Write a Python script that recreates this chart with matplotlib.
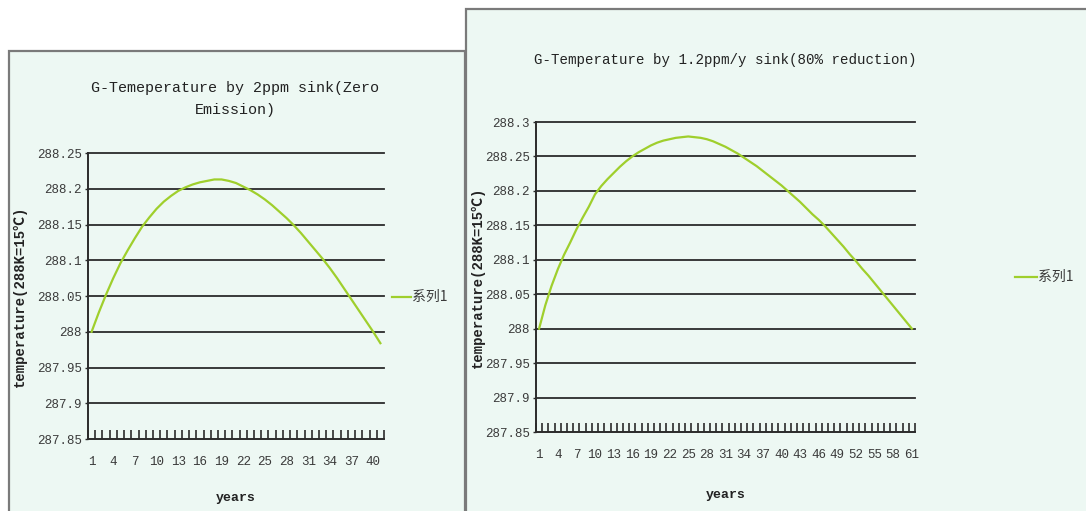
import numpy as np
import matplotlib.pyplot as plt
from matplotlib.patches import Rectangle
from matplotlib.ticker import FixedLocator, NullFormatter

# left chart: zero emission, 41 years
years_a = list(range(1, 42))
temp_a = [288.000, 288.027, 288.052, 288.075, 288.096, 288.114, 288.131, 288.147,
          288.160, 288.172, 288.182, 288.190, 288.197, 288.202, 288.206, 288.209,
          288.211, 288.213, 288.213, 288.211, 288.208, 288.203, 288.198, 288.192,
          288.185, 288.177, 288.168, 288.159, 288.149, 288.138, 288.126, 288.114,
          288.102, 288.089, 288.075, 288.060, 288.045, 288.030, 288.015, 288.000,
          287.984]

# right chart: 80% reduction, 61 years
years_b = list(range(1, 62))
temp_b = [288.000, 288.034, 288.062, 288.086, 288.107, 288.125, 288.144, 288.161,
          288.177, 288.195, 288.207, 288.217, 288.226, 288.235, 288.243, 288.250,
          288.256, 288.261, 288.266, 288.270, 288.273, 288.275, 288.277, 288.278,
          288.279, 288.278, 288.277, 288.275, 288.272, 288.268, 288.264, 288.259,
          288.254, 288.248, 288.242, 288.236, 288.229, 288.222, 288.215, 288.208,
          288.200, 288.192, 288.184, 288.175, 288.166, 288.158, 288.149, 288.139,
          288.129, 288.119, 288.108, 288.098, 288.087, 288.077, 288.066, 288.055,
          288.044, 288.033, 288.022, 288.011, 288.000]

title_a = 'G-Temeperature by 2ppm sink(Zero\nEmission)'
title_b = 'G-Temperature by 1.2ppm/y sink(80% reduction)'
ylabel = 'temperature(288K=15℃)'
xlabel = 'years'
series_name = '系列1'

yticks_a = [287.85, 287.9, 287.95, 288, 288.05, 288.1, 288.15, 288.2, 288.25]
yticks_b = yticks_a + [288.3]

MONO = ['Liberation Mono', 'Noto Sans CJK SC', 'DejaVu Sans']
CJK = ['Noto Sans CJK SC', 'DejaVu Sans']
LINE = '#9fcf2c'
PANEL = '#edf8f3'
GRID = '#2b2b2b'
TXT = '#3a3a3a'

W, H = 1086, 511
fig = plt.figure(figsize=(W / 100, H / 100), dpi=100)
fig.patch.set_facecolor('white')


def fx(px):
    return px / W


def fy(py):
    return 1 - py / H


# chart area panels (left one sits behind the right one)
fig.patches.append(Rectangle((fx(9), fy(515)), fx(465 - 9), fy(51) - fy(515),
                             transform=fig.transFigure, facecolor=PANEL,
                             edgecolor='#7a7a7a', linewidth=1.6, zorder=-2))
fig.patches.append(Rectangle((fx(466), fy(515)), fx(640), fy(9) - fy(515),
                             transform=fig.transFigure, facecolor=PANEL,
                             edgecolor='#7a7a7a', linewidth=1.6, zorder=-1))


def draw(rect, years, temps, yticks, title, title_size, title_y, title_x,
         ylab_x, xlab_y, leg_pos):
    ax = fig.add_axes(rect)
    ax.set_facecolor('none')
    n = len(years)
    ax.plot(years, temps, color=LINE, linewidth=1.6, zorder=3)
    ax.set_xlim(0.5, n + 0.5)
    ax.set_ylim(yticks[0], yticks[-1])
    ax.set_yticks(yticks)
    ax.set_yticklabels(['%g' % v for v in yticks], family=MONO, fontsize=9,
                       color=TXT)
    for v in yticks[1:]:
        ax.axhline(v, color=GRID, linewidth=1.3, zorder=1, clip_on=False)
    ax.tick_params(axis='y', length=2.5, width=1, color=GRID, pad=2)

    ax.set_xticks(years[::3])
    ax.set_xticklabels([str(v) for v in years[::3]], family=MONO, fontsize=9,
                       color=TXT)
    ax.xaxis.set_minor_locator(FixedLocator(np.arange(0.5, n + 1, 1.0)))
    ax.xaxis.set_minor_formatter(NullFormatter())
    ax.tick_params(axis='x', which='major', length=0, pad=12)
    ax.tick_params(axis='x', which='minor', direction='in', length=6.5,
                   width=1.2, color=GRID)

    for s in ['top', 'right']:
        ax.spines[s].set_visible(False)
    for s in ['left', 'bottom']:
        ax.spines[s].set_color(GRID)
        ax.spines[s].set_linewidth(1.4)

    fig.text(fx(title_x), fy(title_y), title, family=MONO, fontsize=title_size,
             ha='center', va='center', color='#222222', linespacing=1.75)
    fig.text(fx(ylab_x), rect[1] + rect[3] / 2, ylabel, family=MONO,
             fontsize=10, fontweight='bold', rotation=90, ha='center',
             va='center', color='#222222')
    fig.text(rect[0] + rect[2] / 2, fy(xlab_y), xlabel, family=MONO,
             fontsize=9.5, fontweight='bold', ha='center', va='center',
             color='#222222')

    lx0, lx1, ly = leg_pos
    fig.add_artist(plt.Line2D([fx(lx0), fx(lx1)], [fy(ly), fy(ly)],
                              color=LINE, linewidth=1.6,
                              transform=fig.transFigure))
    fig.text(fx(lx1 + 1), fy(ly), series_name, family=CJK, fontsize=10,
             ha='left', va='center', color=TXT)
    return ax


draw([fx(88), fy(439), fx(384 - 88), fy(153) - fy(439)], years_a, temp_a,
     yticks_a, title_a, 10.8, 99, 235, 20, 498, (392, 411, 297))
draw([fx(536), fy(432), fx(915 - 536), fy(122) - fy(432)], years_b, temp_b,
     yticks_b, title_b, 10.2, 60, 725, 478, 495, (1015, 1037, 277))

fig.savefig('out.png', dpi=100)
